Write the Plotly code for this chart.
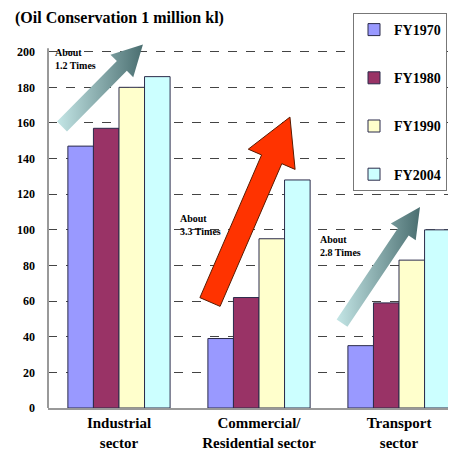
import numpy as np
import plotly.graph_objects as go

# ---- data ----
categories = ["Industrial<br>sector", "Commercial/<br>Residential sector", "Transport<br>sector"]
years = ["FY1970", "FY1980", "FY1990", "FY2004"]
fy1970 = [147, 39, 35]
fy1980 = [157, 62, 59]
fy1990 = [180, 95, 83]
fy2004 = [186, 128, 100]
series_values = [fy1970, fy1980, fy1990, fy2004]
y_ticks = list(range(0, 201, 20))
arrow_labels = ["About<br>1.2 Times", "About<br>3.3 Times", "About<br>2.8 Times"]

# ---- style ----
colors = ["#9999FF", "#993366", "#FFFFCC", "#CCFFFF"]
W, H = 448, 449           # page body has an 8px margin
ML, MR, MT, MB = 40, 0, 33, 49
XR = [-0.507, 2.407]
YR = [0, 206]
serif = "Liberation Serif"

fig = go.Figure()
for name, vals, col in zip(years, series_values, colors):
    fig.add_trace(go.Bar(
        x=list(range(len(categories))), y=vals, name=name, legendgroup=name,
        marker=dict(color=col, line=dict(color="#2b2b4a", width=1)),
    ))

# arrow decorations (data coordinates: tail, tip) + pixel widths
pw = W - ML - MR
ph = H - MT - MB
def to_px(x, y):
    return ((x - XR[0]) / (XR[1] - XR[0]) * pw, (y - YR[0]) / (YR[1] - YR[0]) * ph)
def to_data(px, py):
    return (XR[0] + px / pw * (XR[1] - XR[0]), YR[0] + py / ph * (YR[1] - YR[0]))

arrows = [
    dict(tail=(-0.407, 158), tip=(0.171, 204), w=14, hw=32, hl=30, kind="grad"),
    dict(tail=(0.65, 59.5), tip=(1.221, 163.3), w=22, hw=51, hl=46, kind="red"),
    dict(tail=(1.593, 47.7), tip=(2.15, 112.8), w=13, hw=30, hl=30, kind="grad"),
]
for a in arrows:
    t = np.array(to_px(*a["tail"]))
    p = np.array(to_px(*a["tip"]))
    u = (p - t) / np.linalg.norm(p - t)
    n = np.array([-u[1], u[0]])
    b = p - u * a["hl"]
    pts = [t + n * a["w"] / 2, b + n * a["w"] / 2, b + n * a["hw"] / 2, p,
           b - n * a["hw"] / 2, b - n * a["w"] / 2, t - n * a["w"] / 2, t + n * a["w"] / 2]
    dpts = [to_data(*q) for q in pts]
    xs = [q[0] for q in dpts]
    ys = [q[1] for q in dpts]
    if a["kind"] == "red":
        fig.add_trace(go.Scatter(x=xs, y=ys, mode="lines", fill="toself",
                                 fillcolor="#FF3300", line=dict(color="#5a1a00", width=1),
                                 showlegend=False, hoverinfo="skip"))
    else:
        fig.add_trace(go.Scatter(x=xs, y=ys, mode="lines", fill="toself",
                                 fillgradient=dict(type="horizontal",
                                                   colorscale=[[0, "#c4e6e6"], [1, "#4a6e70"]]),
                                 line=dict(width=0), showlegend=False, hoverinfo="skip"))

label_pos = [(-0.471, 196), (0.421, 103), (1.421, 91)]
for txt, (lx, ly) in zip(arrow_labels, label_pos):
    fig.add_annotation(x=lx, y=ly, text=txt, showarrow=False, xanchor="left", yanchor="middle",
                       align="left", font=dict(family=serif, size=10, color="black", weight="bold"))

# y axis line (only up to 202)
fig.add_shape(type="line", xref="paper", x0=0, x1=0, yref="y", y0=0, y1=202,
              line=dict(color="#999999", width=2))

fig.update_layout(
    width=W, height=H, margin=dict(l=ML, r=MR, t=MT, b=MB, autoexpand=False),
    paper_bgcolor="white", plot_bgcolor="white",
    barmode="group", bargap=0.27, bargroupgap=0,
    title=dict(text="(Oil Conservation 1 million kl)", xref="container", x=7 / W, xanchor="left",
               yref="container", y=1 - 9 / H, yanchor="middle",
               font=dict(family=serif, size=16, color="black", weight="bold")),
    xaxis=dict(range=XR, tickvals=list(range(len(categories))), ticktext=categories,
               showgrid=False, showline=True, linecolor="#999999", linewidth=2, zeroline=False,
               tickfont=dict(family=serif, size=15, color="black", weight="bold")),
    yaxis=dict(range=YR, tickvals=y_ticks, showgrid=True, gridcolor="#444444", gridwidth=1,
               griddash="dash", showline=False, zeroline=False, ticks="", ticklabelstandoff=12,
               tickfont=dict(family=serif, size=12, color="black", weight="bold")),
    legend=dict(xref="container", yref="container", x=345 / W, y=1 - 5 / H,
                xanchor="left", yanchor="top", bgcolor="white", bordercolor="#777777",
                borderwidth=1, tracegroupgap=27, itemwidth=30,
                font=dict(family=serif, size=14, color="black", weight="bold")),
    showlegend=True,
)

fig.write_html("out.html")
